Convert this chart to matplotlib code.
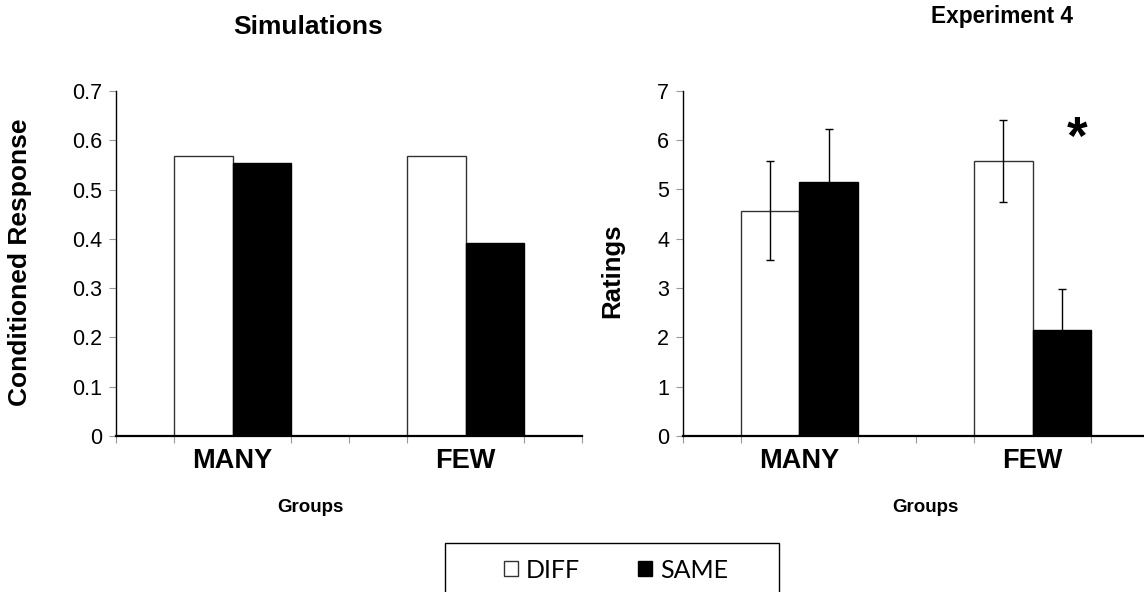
import matplotlib
matplotlib.use("Agg")
import matplotlib.pyplot as plt
from matplotlib.patches import Rectangle
import numpy as np

groups = ["MANY", "FEW"]
series = ["DIFF", "SAME"]
sim_diff = [0.569, 0.568]
sim_same = [0.554, 0.392]
exp_diff = [4.57, 5.575]
exp_same = [5.14, 2.14]
exp_diff_err = [1.0, 0.835]
exp_same_err = [1.09, 0.85]

W, H = 1144, 592
fig = plt.figure(figsize=(W / 100, H / 100), dpi=100)
plt.rcParams["font.family"] = ["Liberation Sans", "DejaVu Sans"]

def px(x0, y0, x1, y1):
    return [x0 / W, 1 - y1 / H, (x1 - x0) / W, (y1 - y0) / H]

axL = fig.add_axes(px(116, 91, 582, 436))
axR = fig.add_axes(px(683, 90.7, 1149, 436))

x = np.arange(len(groups))
bw = 0.25

def style(ax, ymax, yticks, fmt):
    ax.set_xlim(-0.5, 1.5)
    ax.set_ylim(0, ymax)
    for s in ["top", "right"]:
        ax.spines[s].set_visible(False)
    ax.spines["left"].set_color("black")
    ax.spines["left"].set_linewidth(1.0)
    ax.spines["bottom"].set_color("black")
    ax.spines["bottom"].set_linewidth(1.6)
    ax.set_yticks(yticks)
    ax.set_yticklabels([fmt(v) for v in yticks], fontsize=15.5)
    ax.tick_params(axis="y", length=5, width=0.8, color="#999999", pad=5)
    ax.set_xticks(x)
    ax.set_xticklabels(groups, fontsize=19.5, fontweight="bold")
    ax.tick_params(axis="x", which="major", length=0, pad=9)
    ax.set_xticks(np.arange(-0.5, 1.51, 0.25), minor=True)
    ax.tick_params(axis="x", which="minor", length=5, width=0.8, color="#999999")

bL1 = axL.bar(x - bw / 2, sim_diff, bw, color="white", edgecolor="#333333", linewidth=1.0, label=series[0])
bL2 = axL.bar(x + bw / 2, sim_same, bw, color="black", edgecolor="black", linewidth=1.0, label=series[1])
style(axL, 0.7, np.round(np.arange(0, 0.71, 0.1), 1), lambda v: "0" if v == 0 else f"{v:.1f}")

ekw = dict(ecolor="black", elinewidth=1.0, capsize=2.8, capthick=1.0)
axR.bar(x - bw / 2, exp_diff, bw, color="white", edgecolor="#333333", linewidth=1.0,
        yerr=exp_diff_err, error_kw=ekw)
axR.bar(x + bw / 2, exp_same, bw, color="black", edgecolor="black", linewidth=1.0,
        yerr=exp_same_err, error_kw=ekw)
style(axR, 7, np.arange(0, 8, 1), lambda v: f"{int(v)}")
axR.text(1.19, 6.0, "*", fontsize=38, fontweight="bold", ha="center", va="center")

fig.text(308 / W, 1 - 27 / H, "Simulations", fontsize=19, fontweight="bold", ha="center", va="center")
fig.text(1002 / W, 1 - 17 / H, "Experiment 4", fontsize=16.3, fontweight="bold", ha="center", va="center")
fig.text(20 / W, 1 - 262 / H, "Conditioned Response", fontsize=19, fontweight="bold",
         ha="center", va="center", rotation=90)
fig.text(612 / W, 1 - 271 / H, "Ratings", fontsize=18.5, fontweight="bold",
         ha="center", va="center", rotation=90)
fig.text(310 / W, 1 - 507 / H, "Groups", fontsize=13.5, fontweight="bold", ha="center", va="center")
fig.text(925 / W, 1 - 507 / H, "Groups", fontsize=13.5, fontweight="bold", ha="center", va="center")

# legend box (extends past the bottom edge)
fig.patches.append(Rectangle((445 / W, -0.05), (779 - 445) / W, 0.05 + (592 - 543) / H,
                             transform=fig.transFigure, facecolor="white", edgecolor="black",
                             linewidth=1.0))
leg = fig.legend([bL1, bL2], series, loc="center", bbox_to_anchor=(616 / W, 1 - 570 / H),
                 ncol=2, frameon=False, handlelength=0.56, handleheight=0.56, handletextpad=0.3,
                 columnspacing=2.35, prop={"family": ["Lato", "DejaVu Sans"], "size": 18})

fig.savefig("out.png", dpi=100)
